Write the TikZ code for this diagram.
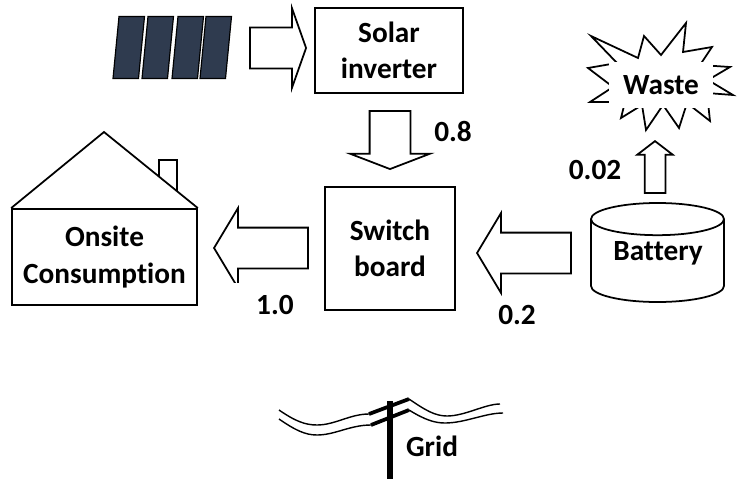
\documentclass[tikz,border=0pt]{standalone}
\usepackage{fontspec}
\setmainfont{Carlito}[Ligatures=NoCommon]
\usetikzlibrary{shapes,shapes.arrows,shapes.geometric,positioning,calc}
\definecolor{panelblue}{HTML}{2F3B4F}
\newcommand{\labelfont}{\fontsize{25}{31}\selectfont\bfseries}

\begin{document}
\begin{tikzpicture}[
  x=0.03cm, y=-0.03cm,
  line join=miter,
  box/.style={rectangle, draw, line width=1.5pt, align=center, inner sep=0pt, font=\labelfont},
  tag/.style={font=\labelfont, inner sep=0pt},
  flow/.style={single arrow, draw, line width=1.5pt, inner sep=0pt, text width=1.17cm,
               text height=1.17cm, text depth=0pt, single arrow head extend=0.585cm, anchor=tip},
  cell/.style={draw=black, line width=1pt, fill=panelblue},
  wire/.style={line width=1.2pt},
]
  \useasboundingbox (0,0) rectangle (741,479);

  % ===== Solar panels =====
  \foreach \shift in {0,29,59,87}
    \draw[cell] (113+\shift,78.5) -- (138.5+\shift,78.5) -- (144.5+\shift,16.5) -- (119+\shift,16.5) -- cycle;

  % ===== Top row =====
  \node[box, minimum width=4.44cm, minimum height=2.55cm] (inverter) at (389,50.5) {Solar\\ inverter};
  \node[flow, shape border rotate=0, minimum height=1.68cm, single arrow tip angle=141] (solarflow) at (307,48) {};
  \node[flow, shape border rotate=270, minimum height=1.74cm, single arrow tip angle=138] (downflow) at (390,170) {};
  \node[tag] (lbleight) at (453,131) {0.8};

  % ===== Middle row =====
  \node[box, minimum width=3.9cm, minimum height=3.69cm] (switch) at (390,248.5) {Switch\\ board};
  \node[box, minimum width=5.55cm, minimum height=2.88cm] (house) at (104.5,257) {Onsite\\ Consumption};
  \coordinate (apex) at (104,132);
  \draw[line width=1.5pt] (house.north west) -- (apex) -- (house.north east);
  \draw[line width=1.5pt] (159,176) -- (159,160) -- (177,160) -- (177,191);

  \node[flow, shape border rotate=180, minimum height=2.82cm, single arrow tip angle=118] (houseflow) at (213,248) {};
  \node[tag, fill=white, minimum width=2.7cm, minimum height=1.32cm] (lblone) at (275,305) {1.0};
  \node[flow, shape border rotate=180, minimum height=2.82cm, single arrow tip angle=118] (batteryflow) at (476,253) {};
  \node[tag] (lbltwo) at (517,315) {0.2};

  % ===== Battery and waste =====
  \node[cylinder, draw, line width=1.5pt, shape border rotate=90, aspect=0.36, minimum width=3.99cm,
        minimum height=2.97cm, inner sep=0pt, font=\labelfont, anchor=shape center] (battery) at (657.5,252.5) {\phantom{Battery}};
  \node[tag] (batterytext) at (658,253) {Battery};
  \node[flow, shape border rotate=90, text width=0.57cm, text height=0.57cm, single arrow head extend=0.225cm,
        minimum height=1.56cm, single arrow tip angle=105] (wasteflow) at (655,140) {};
  \node[tag] (lbltiny) at (595,170) {0.02};

  \draw[line width=1.5pt] (591,36) -- (638,58) -- (644,36) -- (661,55) -- (686,23) -- (683,52)
    -- (712,47) -- (700,65) -- (730,67) -- (708,80) -- (733,95) -- (707,93) -- (710,121)
    -- (687,103) -- (679,128) -- (663,105) -- (646,130) -- (642,105) -- (621,118) -- (625,102)
    -- (590,102) -- (613,87) -- (588,68) -- (617,63) -- cycle;
  \node[tag, fill=white, minimum width=3.12cm, minimum height=1.38cm] (waste) at (661,85) {Waste};

  % ===== Grid =====
  \draw[wire] (279,410) .. controls (295,421) and (305,425) .. (317,425) .. controls (335,425) and (350,414) .. (369,414);
  \draw[wire] (279,419) .. controls (295,430) and (305,435) .. (317,435) .. controls (335,435) and (350,425) .. (371,425);
  \draw[wire] (409,399) .. controls (425,410) and (435,416) .. (447,416) .. controls (465,416) and (485,404) .. (500,404);
  \draw[wire] (409,410) .. controls (425,420) and (435,423) .. (445,423) .. controls (465,423) and (485,413) .. (503,413);
  \draw[line width=3.2pt] (369,414) -- (409,399);
  \draw[line width=3.2pt] (371,425) -- (409,410);
  \draw[line width=4.4pt] (390,401) -- (390,479);
  \node[tag] (grid) at (432,446) {Grid};
\end{tikzpicture}
\end{document}
